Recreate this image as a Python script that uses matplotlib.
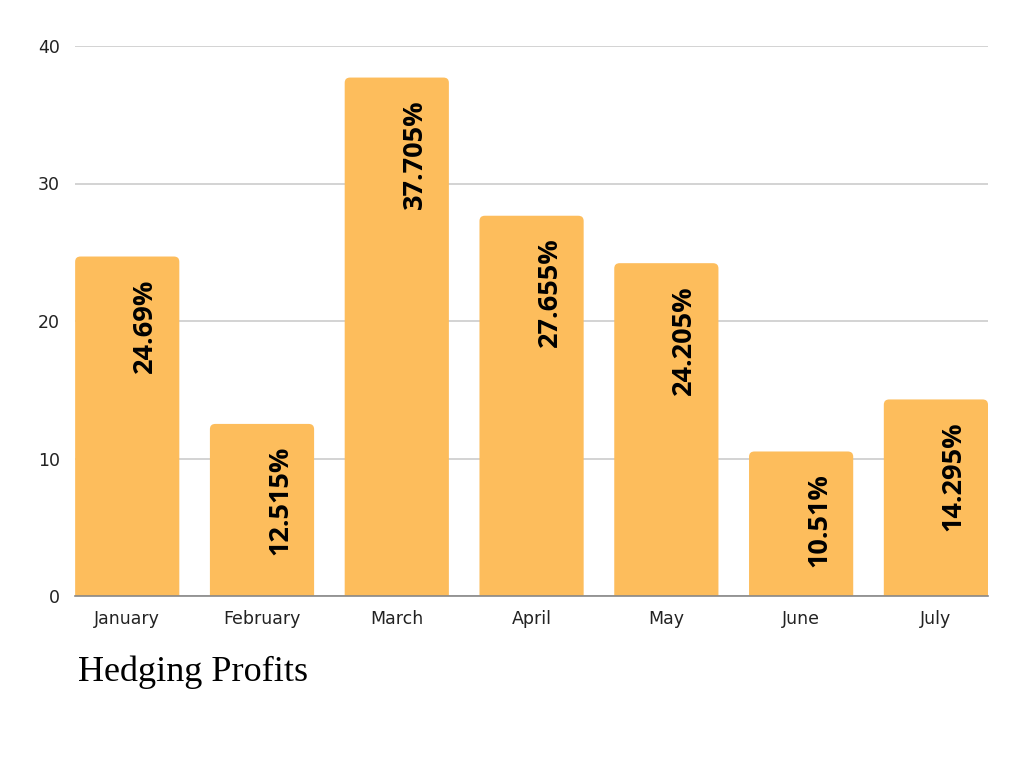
import numpy as np
import matplotlib.pyplot as plt
from matplotlib.patches import FancyBboxPatch

# Chart data.
months = ['January', 'February', 'March', 'April', 'May', 'June', 'July']
profits = [24.69, 12.515, 37.705, 27.655, 24.205, 10.51, 14.295]
y_ticks = [0, 10, 20, 30, 40]

bar_color = '#fdbd5c'
bar_width = 0.773

fig = plt.figure(figsize=(10.24, 7.68), dpi=100)
ax = fig.add_axes([75 / 1024, 1 - 596 / 768, 913 / 1024, 550 / 768])

x = np.arange(len(months))
bars = ax.bar(x, profits, width=bar_width, color='none')

# Replace plain bars with rounded-top patches.
aspect = (913 / 7.0 / 1.0) / (550 / 40.0)
for rect in bars:
    bx, by = rect.get_x(), rect.get_y()
    bw, bh = rect.get_width(), rect.get_height()
    patch = FancyBboxPatch((bx, by - 2), bw, bh + 2,
                           boxstyle='round,pad=0,rounding_size=0.04',
                           mutation_aspect=aspect,
                           facecolor=bar_color, edgecolor='none', zorder=2)
    ax.add_patch(patch)

# Value labels inside bars.
for xi, val in zip(x, profits):
    ax.annotate('{}%'.format(val), xy=(xi, val), xytext=(18, -22),
                textcoords='offset pixels', rotation=90,
                ha='center', va='top', fontsize=19.5, fontweight='bold',
                family='Open Sans', color='black', zorder=3)

ax.set_xlim(-0.5 * bar_width - 0.001, len(months) - 1 + 0.5 * bar_width)
ax.set_ylim(0, 40)
ax.set_yticks(y_ticks)
ax.set_xticks(x)
ax.set_xticklabels(months, family='DejaVu Sans')
ax.set_yticklabels([str(t) for t in y_ticks], family='DejaVu Sans')
ax.tick_params(axis='both', length=0, labelsize=12.5, colors='#222222')
ax.tick_params(axis='y', pad=11)
ax.tick_params(axis='x', pad=10)

ax.grid(axis='y', color='#cccccc', linewidth=1.2, zorder=0)
ax.set_axisbelow(True)
for side in ['top', 'right', 'left']:
    ax.spines[side].set_visible(False)
ax.spines['bottom'].set_color('#888888')
ax.spines['bottom'].set_linewidth(1.2)
ax.spines['bottom'].set_zorder(4)

fig.text(78 / 1024, 1 - 681 / 768, 'Hedging Profits', fontsize=26,
         family='Liberation Serif', color='black', ha='left', va='baseline')

fig.savefig('out.png', dpi=100)
